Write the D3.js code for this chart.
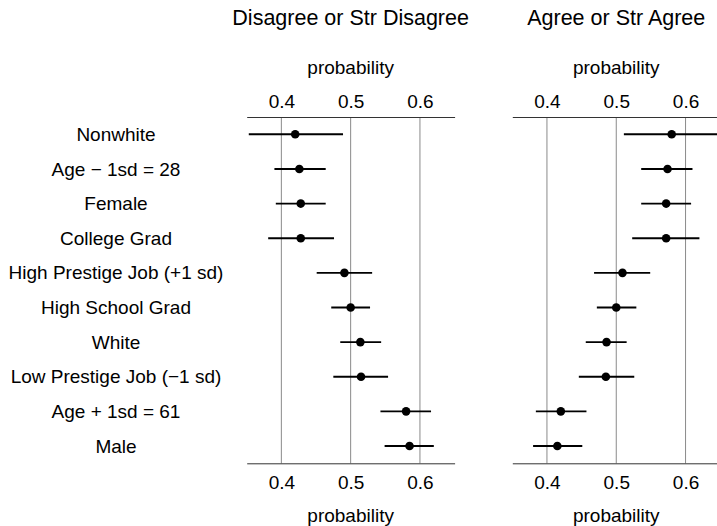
<!DOCTYPE html>
<html>
<head>
<meta charset="utf-8">
<script src="https://d3js.org/d3.v7.min.js"></script>
<style>
body { margin: 0; background: #fff; }
text { font-family: "Liberation Sans", Arial, Helvetica, sans-serif; fill: #000; }
</style>
</head>
<body>
<svg id="chart" width="717" height="526"></svg>
<script>
// rows, top to bottom
var labels = ["Nonwhite", "Age \u2212 1sd = 28", "Female", "College Grad",
  "High Prestige Job (+1 sd)", "High School Grad", "White",
  "Low Prestige Job (\u22121 sd)", "Age + 1sd = 61", "Male"];

// Disagree or Str Disagree
var disEst = [0.420, 0.426, 0.428, 0.428, 0.491, 0.500, 0.514, 0.515, 0.580, 0.585];
var disLo  = [0.353, 0.390, 0.392, 0.381, 0.451, 0.472, 0.485, 0.475, 0.543, 0.549];
var disHi  = [0.489, 0.464, 0.464, 0.476, 0.531, 0.528, 0.544, 0.554, 0.616, 0.620];

// Agree or Str Agree
var agrEst = [0.580, 0.574, 0.572, 0.572, 0.509, 0.500, 0.486, 0.485, 0.420, 0.415];
var agrLo  = [0.511, 0.536, 0.536, 0.523, 0.468, 0.472, 0.456, 0.446, 0.384, 0.380];
var agrHi  = [0.649, 0.610, 0.608, 0.620, 0.549, 0.529, 0.515, 0.526, 0.457, 0.451];

var tickVals = [0.4, 0.5, 0.6];

var svg = d3.select("#chart");
var top_ = 117, bottom_ = 463.3;

var y = d3.scaleBand().domain(labels).range([top_, bottom_]).padding(0);

// row labels
svg.selectAll("text.rowlab")
  .data(labels)
  .enter().append("text")
  .attr("class", "rowlab")
  .attr("x", 116)
  .attr("y", function (d) { return y(d) + y.bandwidth() / 2; })
  .attr("dy", "0.35em")
  .attr("text-anchor", "middle")
  .style("font-size", "19px")
  .text(function (d) { return d; });

function panel(x0, title, est, lo, hi) {
  var x = d3.scaleLinear().domain([0.35, 0.65]).range([x0, x0 + 207.9]);
  var g = svg.append("g");
  var mid = x0 + 207.9 / 2;

  // grid lines
  g.selectAll("line.grid")
    .data(tickVals)
    .enter().append("line")
    .attr("x1", function (d) { return x(d); })
    .attr("x2", function (d) { return x(d); })
    .attr("y1", top_)
    .attr("y2", bottom_)
    .attr("stroke", "#8a8a8a")
    .attr("stroke-width", 1);

  var axT = g.append("g").attr("transform", "translate(0," + top_ + ")")
    .call(d3.axisTop(x).tickValues(tickVals).tickFormat(d3.format(".1f"))
      .tickSize(0).tickPadding(9));
  var axB = g.append("g").attr("transform", "translate(0," + bottom_ + ")")
    .call(d3.axisBottom(x).tickValues(tickVals).tickFormat(d3.format(".1f"))
      .tickSize(0).tickPadding(12));
  [axT, axB].forEach(function (a) {
    a.select(".domain").attr("stroke", "#333").attr("stroke-width", 1);
    a.selectAll("text").style("font-size", "19px")
      .style("font-family", "'Liberation Sans', Arial, sans-serif").attr("fill", "#000");
  });

  // error bars
  var rows = labels.map(function (d, i) { return { lab: d, e: est[i], lo: lo[i], hi: hi[i] }; });
  g.selectAll("line.ci")
    .data(rows)
    .enter().append("line")
    .attr("x1", function (d) { return x(d.lo); })
    .attr("x2", function (d) { return x(d.hi); })
    .attr("y1", function (d) { return y(d.lab) + y.bandwidth() / 2; })
    .attr("y2", function (d) { return y(d.lab) + y.bandwidth() / 2; })
    .attr("stroke", "#000")
    .attr("stroke-width", 1.9);
  g.selectAll("circle")
    .data(rows)
    .enter().append("circle")
    .attr("cx", function (d) { return x(d.e); })
    .attr("cy", function (d) { return y(d.lab) + y.bandwidth() / 2; })
    .attr("r", 4.3)
    .attr("fill", "#000");

  g.append("text").attr("x", mid).attr("y", 25).attr("text-anchor", "middle")
    .style("font-size", "21.5px").text(title);
  g.append("text").attr("x", mid).attr("y", 74).attr("text-anchor", "middle")
    .style("font-size", "19px").text("probability");
  g.append("text").attr("x", mid).attr("y", 522).attr("text-anchor", "middle")
    .style("font-size", "19px").text("probability");
}

panel(246.7, "Disagree or Str Disagree", disEst, disLo, disHi);
panel(512.3, "Agree or Str Agree", agrEst, agrLo, agrHi);
</script>
</body>
</html>
